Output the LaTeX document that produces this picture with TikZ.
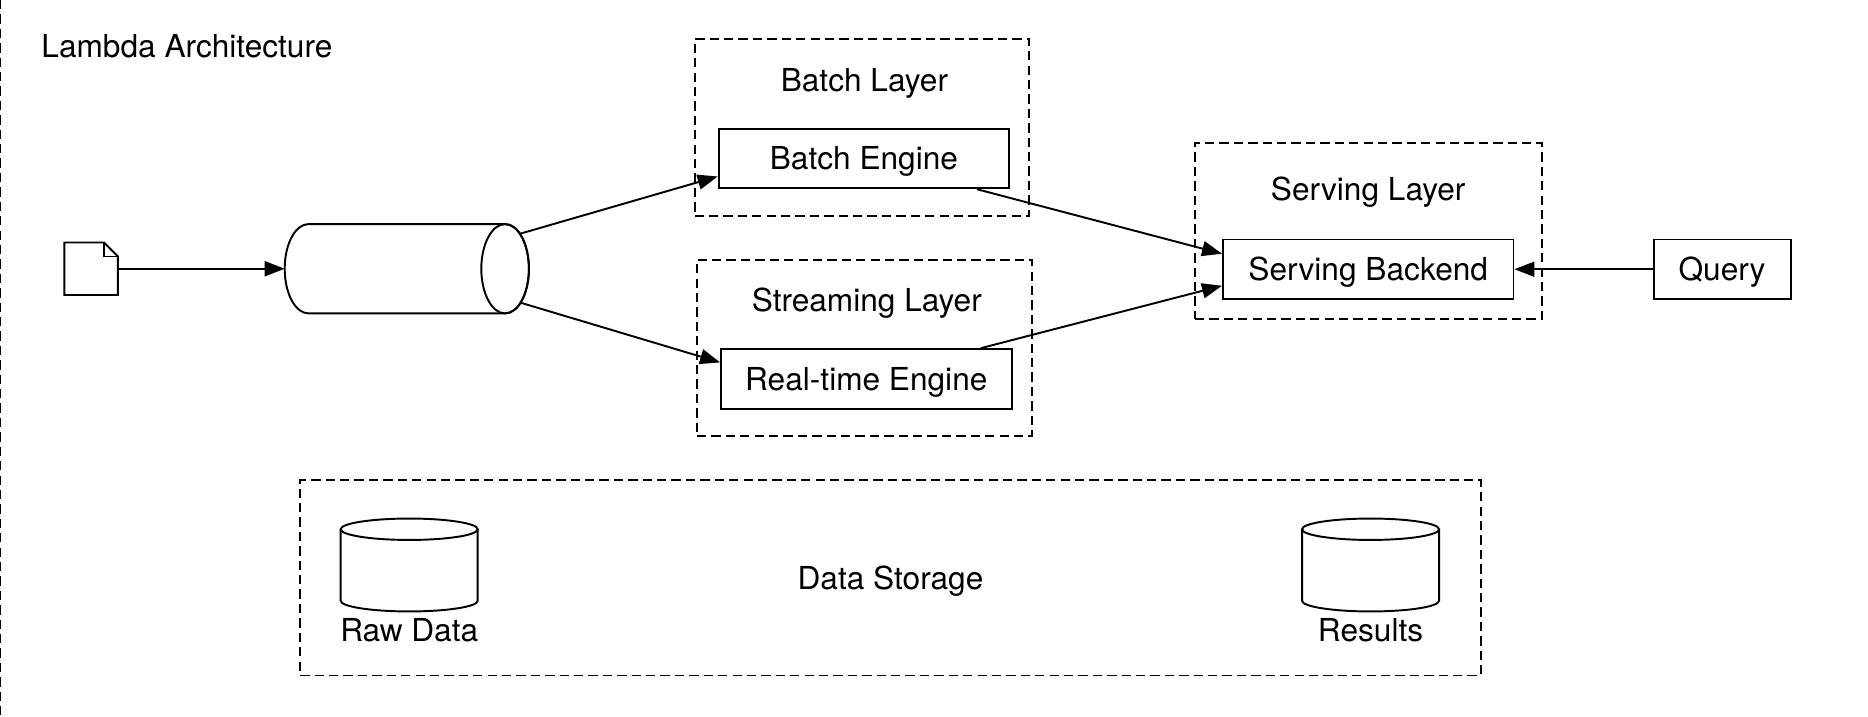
\documentclass[tikz,border=0pt]{standalone}
\usepackage{fontspec}
\setmainfont{TeX Gyre Heros}
\usetikzlibrary{positioning, arrows.meta}

\begin{document}
\begin{tikzpicture}[line width=1.1pt, >={Triangle[length=0.4cm, width=0.3cm]}, font=\fontsize{18}{21}\selectfont]
        % Define block styles
        \tikzstyle{layer} = [rectangle, draw, dash pattern=on 5.3pt off 2.9pt, minimum width=6.695cm, minimum height=3.526cm, inner sep=0pt, text height=12.8pt, text depth=0pt]
        \tikzstyle{block} = [rectangle, draw, fill=white, minimum width=5.81cm, minimum height=1.19cm, inner sep=0pt, text height=12.8pt, text depth=0pt]
        \tikzstyle{tag} = [text height=12.8pt, text depth=0pt]
        \tikzstyle{holder} = [rectangle, inner sep=0pt, outer sep=0pt]

        % Fix the page size
        \useasboundingbox (0,0) rectangle (37.36,14.32);

        % Outer frame and title
        \coordinate (frame_top) at (0.01,14.32);
        \coordinate (frame_bottom) at (0.01,0);
        \draw [dash pattern=on 5.3pt off 2.9pt] (frame_top) -- (frame_bottom);
        \node [tag, anchor=west, inner sep=0pt] (title) at (0.81,13.39) {Lambda Architecture};

        % Place layers
        \node [layer] (batch_layer) at (17.238,11.770) {};
        \node [layer] (streaming_layer) at (17.286,7.362) {};
        \node [layer, minimum width=6.933cm] (serving_layer) at (27.364,9.697) {};
        \node [layer, minimum width=23.611cm, minimum height=3.907cm] (data_storage) at (17.81,2.764) {Data Storage};

        % Layer titles
        \node [tag, yshift=0.95cm, xshift=0.05cm] (batch_title) at (batch_layer) {Batch Layer};
        \node [tag, yshift=0.95cm, xshift=0.05cm] (streaming_title) at (streaming_layer) {Streaming Layer};
        \node [tag, yshift=0.834cm] (serving_title) at (serving_layer) {Serving Layer};

        % Place nodes
        \node [block, yshift=-0.62cm, xshift=0.04cm] (batch_engine) at (batch_layer) {Batch Engine};
        \node [block, yshift=-0.62cm, xshift=0.04cm] (realtime_engine) at (streaming_layer) {Real-time Engine};
        \node [block, yshift=-0.762cm] (serving_backend) at (serving_layer) {Serving Backend};
        \node [block, minimum width=2.74cm, right of=serving_backend, node distance=7.077cm] (query) {Query};
        \node [holder, minimum width=1.07cm, minimum height=1.05cm] (file) at (1.823,8.945) {};
        \node [holder, minimum width=4.884cm, minimum height=1.787cm] (queue) at (8.136,8.945) {};
        \node [holder, minimum width=2.74cm, minimum height=1.858cm] (raw_store) at (8.184,3.020) {};
        \node [holder, minimum width=2.74cm, minimum height=1.858cm] (results_store) at (27.411,3.020) {};
        \node [tag, below=0.01cm of raw_store] (raw_label) {Raw Data};
        \node [tag, below=0.01cm of results_store] (results_label) {Results};

        % File icon
        \draw (file.south west) -- (file.north west) -- ([xshift=-0.28cm]file.north east) -- ([yshift=-0.28cm]file.north east) -- (file.south east) -- cycle;
        \draw ([xshift=-0.28cm]file.north east) -- ([xshift=-0.28cm, yshift=-0.28cm]file.north east) -- ([yshift=-0.28cm]file.north east);

        % Queue cylinder
        \draw ([xshift=0.476cm]queue.north west) -- ([xshift=-0.476cm]queue.north east) arc[start angle=90, end angle=-90, x radius=0.476cm, y radius=0.8935cm] -- ([xshift=0.476cm]queue.south west) arc[start angle=270, end angle=90, x radius=0.476cm, y radius=0.8935cm];
        \draw ([xshift=-0.476cm]queue.east) ellipse [x radius=0.476cm, y radius=0.8935cm];

        % Storage cylinders
        \foreach \db in {raw_store, results_store} {
            \draw ([yshift=-0.214cm]\db.north) ellipse [x radius=1.37cm, y radius=0.214cm];
            \draw ([yshift=-0.214cm]\db.north west) -- ([yshift=0.214cm]\db.south west) arc[start angle=180, end angle=360, x radius=1.37cm, y radius=0.214cm] -- ([yshift=-0.214cm]\db.north east);
        }

        % Draw connections as arrows
        \draw [->] (file.east) -- (queue.west);
        \draw [->] ([xshift=-0.167cm, yshift=0.703cm]queue.east) -- ([yshift=-0.36cm]batch_engine.west);
        \draw [->] ([xshift=-0.167cm, yshift=-0.679cm]queue.east) -- ([yshift=0.33cm]realtime_engine.west);
        \draw [->] ([xshift=2.26cm]batch_engine.south) -- ([yshift=0.31cm]serving_backend.west);
        \draw [->] ([xshift=2.29cm]realtime_engine.north) -- ([yshift=-0.33cm]serving_backend.west);
        \draw [->] (query.west) -- (serving_backend.east);
    \end{tikzpicture}
\end{document}
